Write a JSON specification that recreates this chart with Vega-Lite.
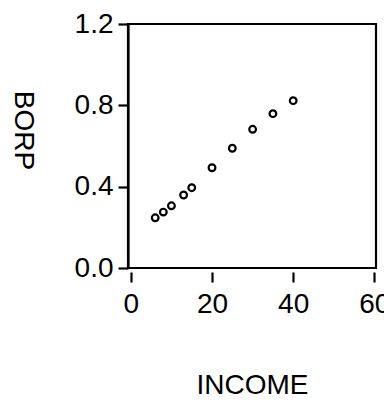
{
  "$schema": "https://vega.github.io/schema/vega-lite/v6.json",
  "autosize": "none",
  "width": 248,
  "height": 244,
  "padding": {"left": 128, "top": 24, "right": 8, "bottom": 134},
  "background": "white",
  "config": {
    "view": {"stroke": "black", "strokeWidth": 2.2},
    "font": "Liberation Sans"
  },
  "data": {
    "values": [
      {"INCOME": 6, "BORP": 0.247},
      {"INCOME": 8, "BORP": 0.275},
      {"INCOME": 10, "BORP": 0.306},
      {"INCOME": 13, "BORP": 0.359},
      {"INCOME": 15, "BORP": 0.395},
      {"INCOME": 20, "BORP": 0.493},
      {"INCOME": 25, "BORP": 0.589},
      {"INCOME": 30, "BORP": 0.682},
      {"INCOME": 35, "BORP": 0.759},
      {"INCOME": 40, "BORP": 0.823}
    ]
  },
  "mark": {"type": "point", "shape": "circle", "filled": false, "stroke": "black", "strokeWidth": 2.2, "size": 45, "opacity": 1},
  "encoding": {
    "x": {
      "field": "INCOME",
      "type": "quantitative",
      "scale": {"domain": [-0.7, 60.4], "nice": false, "zero": false},
      "axis": {
        "values": [0, 20, 40, 60],
        "format": "d",
        "grid": false,
        "domain": false,
        "offset": 4,
        "tickSize": 10,
        "tickWidth": 2.2,
        "tickColor": "black",
        "labelFontSize": 28,
        "labelColor": "black",
        "labelPadding": 8,
        "labelFlush": false,
        "labelOverlap": false,
        "title": "INCOME",
        "titleFontSize": 28,
        "titleFontWeight": "normal",
        "titleColor": "black",
        "titleBaseline": "middle",
        "titleX": 124,
        "titleY": 113
      }
    },
    "y": {
      "field": "BORP",
      "type": "quantitative",
      "scale": {"domain": [0, 1.2], "nice": false},
      "axis": {
        "values": [0, 0.4, 0.8, 1.2],
        "format": ".1f",
        "grid": false,
        "domain": true,
        "domainColor": "black",
        "domainWidth": 2.2,
        "tickSize": 10,
        "tickWidth": 2.2,
        "tickColor": "black",
        "labelFontSize": 28,
        "labelColor": "black",
        "labelPadding": 5,
        "labelFlush": false,
        "labelOverlap": false,
        "labelBaseline": "middle",
        "title": "BORP",
        "titleFontSize": 28,
        "titleFontWeight": "normal",
        "titleColor": "black",
        "titleAngle": 90,
        "titleAlign": "center",
        "titleBaseline": "middle",
        "titleX": -106,
        "titleY": 106
      }
    }
  }
}
